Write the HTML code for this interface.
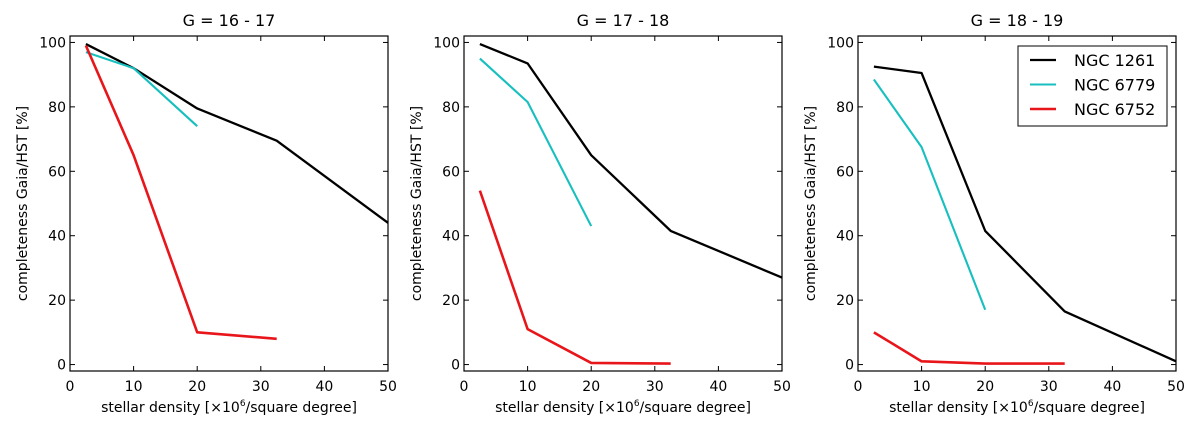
<!DOCTYPE html>
<html><head><meta charset="utf-8"><style>
body{margin:0;background:#fff}
svg text{font-family:"DejaVu Sans","Liberation Sans",sans-serif;fill:#000}
</style></head><body>
<svg id="c" width="1200" height="432" xmlns="http://www.w3.org/2000/svg"></svg>
<script>
const titles=["G = 16 - 17","G = 17 - 18","G = 18 - 19"];
const xTicks=[0,10,20,30,40,50];
const yTicks=[0,20,40,60,80,100];
const seriesNames=["NGC 1261","NGC 6779","NGC 6752"];
const seriesColors=["#000000","#17bfbf","#e8161b"];
const seriesWidths=[2.3,2.1,2.6];
const xBlack=[2.5,10,20,32.5,50];
const xCyan=[2.5,10,20];
const xRed=[2.5,10,20,32.5];
const p1Black=[99.5,92,79.5,69.5,44];
const p1Cyan=[97,92,74];
const p1Red=[99,65,10,8];
const p2Black=[99.5,93.5,65,41.5,27];
const p2Cyan=[95,81.5,43];
const p2Red=[54,11,0.5,0.3];
const p3Black=[92.5,90.5,41.5,16.5,1];
const p3Cyan=[88.5,67.5,17];
const p3Red=[10,1,0.3,0.3];
const panels=[[p1Black,p1Cyan,p1Red],[p2Black,p2Cyan,p2Red],[p3Black,p3Cyan,p3Red]];
const xsets=[xBlack,xCyan,xRed];
const lefts=[70,464,858];
const W=318,topY=36,botY=371,ymin=-2,ymax=102;
const svg=document.getElementById('c');
const NS='http://www.w3.org/2000/svg';
function mk(t,a,p){const e=document.createElementNS(NS,t);for(const k in a)e.setAttribute(k,a[k]);(p||svg).appendChild(e);return e;}
panels.forEach((ser,pi)=>{
  const L=lefts[pi];
  const sx=v=>L+v/50*W;
  const sy=v=>botY-(v-ymin)/(ymax-ymin)*(botY-topY);
  const g=mk('g',{});
  
  
  const t=mk('text',{x:L+W/2,y:26,'text-anchor':'middle','font-size':16},g);t.textContent=titles[pi];
  
  
  ser.forEach((ys,si)=>{
    const xs=xsets[si];
    const pts=ys.map((y,i)=>sx(xs[i])+','+sy(y)).join(' ');
    const pl=mk('polyline',{points:pts,fill:'none',stroke:seriesColors[si],'stroke-width':seriesWidths[si],'stroke-linejoin':'round'},g);
    
    
  });
  const fr=mk('rect',{x:L,y:topY,width:W,height:botY-topY,fill:'none',stroke:'#000','stroke-width':1.2},g);
  
  
  xTicks.forEach(v=>{const x=sx(v);
    mk('line',{x1:x,x2:x,y1:botY,y2:botY-5,stroke:'#000'},g);
    mk('line',{x1:x,x2:x,y1:topY,y2:topY+5,stroke:'#000'},g);
    const tx=mk('text',{x:x,y:botY+20,'text-anchor':'middle','font-size':14},g);tx.textContent=v;
    
    });
  yTicks.forEach(v=>{const y=sy(v);
    mk('line',{x1:L,x2:L+5,y1:y,y2:y,stroke:'#000'},g);
    mk('line',{x1:L+W,x2:L+W-5,y1:y,y2:y,stroke:'#000'},g);
    const ty=mk('text',{x:L-4,y:y+5,'text-anchor':'end','font-size':14},g);ty.textContent=v;
    
    });
  const xl=mk('text',{x:L+W/2,y:412,'text-anchor':'middle','font-size':14},g);
  xl.innerHTML='stellar density [×10<tspan font-size="9" dy="-6">6</tspan><tspan dy="6">/square degree]</tspan>';
  
  
  const yl=mk('text',{x:0,y:0,'text-anchor':'middle','font-size':14,transform:`translate(${L-43},${(topY+botY)/2}) rotate(-90)`},g);
  yl.textContent='completeness Gaia/HST [%]';
  
  
});
const lg=mk('g',{});


mk('rect',{x:1018,y:46,width:149,height:80,fill:'#fff',stroke:'#000','stroke-width':1},lg);
seriesNames.forEach((n,i)=>{const y=60+i*24.5;
  const ln=mk('line',{x1:1030,x2:1056,y1:y,y2:y,stroke:seriesColors[i],'stroke-width':seriesWidths[i]},lg);
  
  
  const tx=mk('text',{x:1074,y:y+6,'font-size':16},lg);tx.textContent=n;
  
  });
</script>
</body></html>
